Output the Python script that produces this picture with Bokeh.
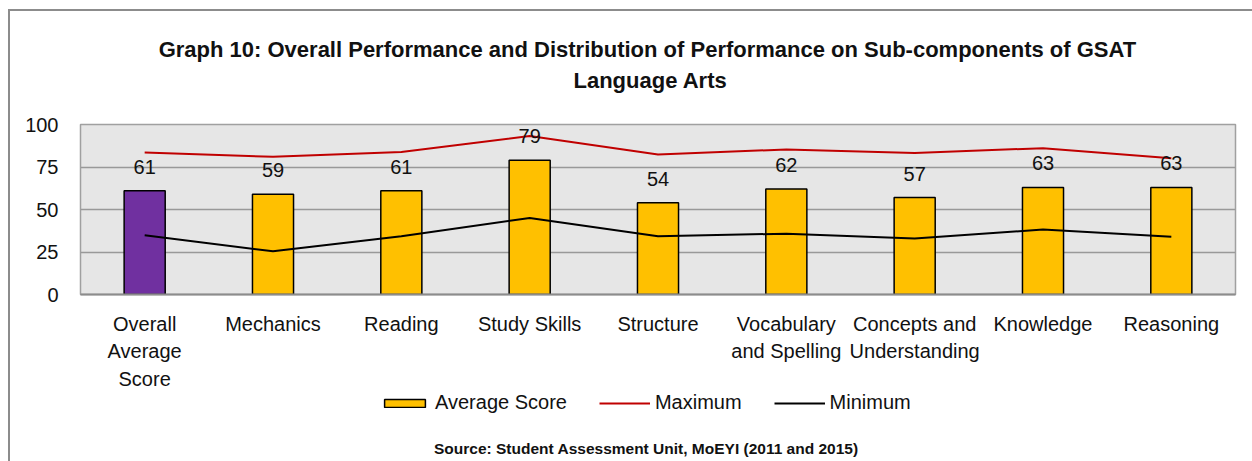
from bokeh.plotting import figure
from bokeh.layouts import column
from bokeh.models import (FactorRange, ColumnDataSource, LabelSet, Legend,
                          LegendItem, FixedTicker, Label, Range1d)
from bokeh.core.properties import value
from bokeh.embed import file_html
from bokeh.resources import INLINE

categories = ["Overall\nAverage\nScore", "Mechanics", "Reading", "Study Skills", "Structure",
              "Vocabulary\nand Spelling", "Concepts and\nUnderstanding", "Knowledge", "Reasoning"]
average = [61, 59, 61, 79, 54, 62, 57, 63, 63]
maximum = [83.6, 81.0, 83.8, 93.2, 82.4, 85.3, 83.2, 86.1, 80.2]
minimum = [34.8, 25.4, 34.2, 45.0, 34.2, 35.8, 32.9, 38.2, 33.9]
bar_colors = ["#7030A0"] + ["#FFC000"] * 8
y_ticks = [0, 25, 50, 75, 100]
title_lines = ["Graph 10: Overall Performance and Distribution of  Performance on Sub-components of GSAT",
               "Language Arts"]
series_names = ["Average Score", "Maximum", "Minimum"]
source_note = "Source:  Student Assessment Unit, MoEYI (2011 and 2015)"

FONT = "Liberation Sans"
TXT = "#111111"
W = 1242  # inner width (page width minus left offset of 10)
NAN = float("nan")


def blank(height, y_top, y_bottom):
    # frames of a column are aligned with the chart frame (page x 80 .. 1235)
    f = figure(width=W, height=height, x_range=Range1d(80, 1235), y_range=Range1d(y_bottom, y_top),
               min_border=0, x_axis_location=None, y_axis_location=None,
               output_backend="svg", toolbar_location=None, tools="")
    f.grid.visible = False
    f.outline_line_color = None
    f.background_fill_color = "white"
    f.border_fill_color = "white"
    return f


# ---------- title strip ----------
top = blank(99, 11, 110)
for txt, yy in zip(title_lines, [49, 80]):
    top.add_layout(Label(x=650, y=yy, text=txt, text_align="center", text_baseline="middle",
                         text_font=FONT, text_font_size="22px", text_font_style="bold",
                         text_color=TXT))

# ---------- main chart ----------
src = ColumnDataSource(dict(cat=categories, avg=average, mx=maximum, mn=minimum,
                            col=bar_colors, lbl=[str(v) for v in average]))

p = figure(x_range=FactorRange(*categories, range_padding=0), y_range=(0, 100),
           frame_width=1155, frame_height=170, min_border_left=70, min_border_right=17,
           min_border_top=14, min_border_bottom=94,
           output_backend="svg", toolbar_location=None, tools="")
p.background_fill_color = "#E6E6E6"
p.border_fill_color = "white"
p.outline_line_color = "#A0A0A0"
p.outline_line_width = 1.5

p.vbar(x="cat", top="avg", width=0.32, source=src, fill_color="col",
       line_color="black", line_width=1.5)
p.line(x="cat", y="mx", source=src, line_color="#C00000", line_width=2)
p.line(x="cat", y="mn", source=src, line_color="black", line_width=2)

p.add_layout(LabelSet(x="cat", y="avg", text="lbl", source=src, y_offset=17,
                      text_align="center", text_baseline="alphabetic",
                      text_font=value(FONT), text_font_size=value("20px"), text_color=TXT))

p.yaxis.ticker = FixedTicker(ticks=y_ticks)
p.yaxis.axis_line_color = None
p.yaxis.major_tick_line_color = None
p.yaxis.minor_tick_line_color = None
p.yaxis.major_label_standoff = 16
p.yaxis.major_label_text_font = FONT
p.yaxis.major_label_text_font_size = "20px"
p.yaxis.major_label_text_color = TXT

p.xaxis.axis_line_color = "#8C8C8C"
p.xaxis.axis_line_width = 2
p.xaxis.major_tick_line_color = None
p.xaxis.minor_tick_line_color = None
p.xaxis.major_label_standoff = 12
p.xaxis.major_label_text_font = FONT
p.xaxis.major_label_text_font_size = "20px"
p.xaxis.major_label_text_color = TXT
p.xaxis.major_label_text_line_height = 1.26

p.xgrid.grid_line_color = None
p.ygrid.grid_line_color = "#999999"
p.ygrid.grid_line_width = 1.5
p.ygrid.ticker = FixedTicker(ticks=y_ticks)

# ---------- legend + source strip ----------
bot = blank(73, 388, 461)
# legend proxies: no drawable data, they only supply the legend swatches
lb = bot.vbar(x=[NAN], top=[NAN], width=0.5, fill_color="#FFC000",
              line_color="black", line_width=1.5)
lmax = bot.line(x=[NAN], y=[NAN], line_color="#C00000", line_width=2)
lmin = bot.line(x=[NAN], y=[NAN], line_color="black", line_width=2)
legend = Legend(items=[LegendItem(label=n, renderers=[r]) for n, r in zip(series_names, [lb, lmax, lmin])],
                orientation="horizontal", location=(299, 51),
                background_fill_alpha=0, border_line_color=None,
                padding=0, margin=0, spacing=32, glyph_width=51, glyph_height=10,
                label_standoff=5, label_text_font=FONT, label_text_font_size="20px",
                label_text_color=TXT)
bot.add_layout(legend, "center")
bot.add_layout(Label(x=648, y=444, text=source_note, text_align="center", text_baseline="middle",
                     text_font=FONT, text_font_size="15.5px", text_font_style="bold", text_color=TXT))

layout = column(top, p, bot, spacing=0,
                styles={"border-top": "2px solid #8C8C8C", "border-left": "2px solid #8C8C8C",
                        "margin-top": "9px", "margin-left": "8px"})

open("out.html", "w").write(file_html(layout, INLINE))
